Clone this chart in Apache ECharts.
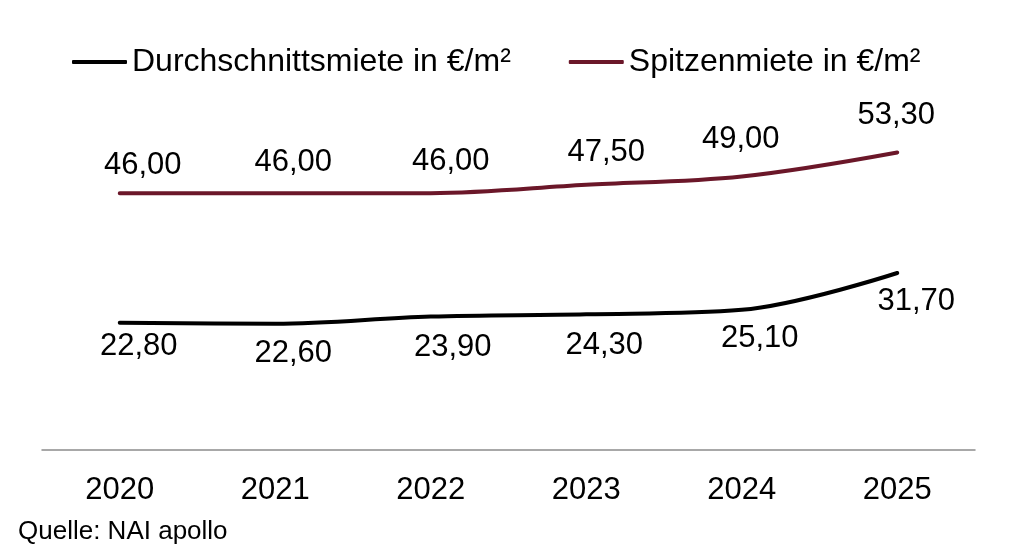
<!DOCTYPE html>
<html><head><meta charset="utf-8">
<script src="https://cdn.jsdelivr.net/npm/echarts@6/dist/echarts.min.js"></script>
<style>html,body{margin:0;padding:0;background:#fff}#c{width:1024px;height:555px}</style>
</head><body><div id="c"></div>
<script>
const years = ['2020','2021','2022','2023','2024','2025'];
const durchschnitt = [22.8, 22.6, 23.9, 24.3, 25.1, 31.7];
const spitzen = [46.0, 46.0, 46.0, 47.5, 49.0, 53.3];
const seriesNames = ['Durchschnittsmiete in €/m²', 'Spitzenmiete in €/m²'];
const sourceText = 'Quelle: NAI apollo';

// label placement tweaks (x, y offsets in px)
const durchOffsets = [[19,24],[18,30],[22,31],[18,31],[18,29],[19,28]];
const spitzOffsets = [[23,-28],[18,-31],[20,-32],[20,-32],[-1,-37],[-1,-37]];

const fmt = v => v.toFixed(2).replace('.', ',');
const font = 'Liberation Sans, Arial, Helvetica, sans-serif';

function mk(vals, offs) {
  return vals.map((v, i) => ({ value: v, label: { offset: offs[i] } }));
}

const chart = echarts.init(document.getElementById('c'));
chart.setOption({
  animation: false,
  backgroundColor: '#fff',
  legend: {
    top: 41, left: 67, itemWidth: 55, itemHeight: 4, itemGap: 58,
    icon: 'roundRect',
    textStyle: { fontFamily: font, fontSize: 32, color: '#000' },
    data: seriesNames
  },
  graphic: [{ type: 'text', left: 18, top: 519, style: { text: sourceText, font: '26px ' + font, fill: '#000' } }],
  grid: { left: 42, right: 49, top: 115, bottom: 105 },
  xAxis: {
    type: 'category', data: years, boundaryGap: true,
    axisLine: { lineStyle: { color: '#8c8c8c', width: 1.5 } },
    axisTick: { show: false },
    axisLabel: { color: '#000', fontFamily: font, fontSize: 31, margin: 25 }
  },
  yAxis: { type: 'value', min: 0, max: 60, show: false, splitLine: { show: false } },
  series: [
    { name: seriesNames[0], type: 'line', smooth: 0.35, data: mk(durchschnitt, durchOffsets),
      showSymbol: true, symbol: 'circle', symbolSize: 0, color: '#000',
      lineStyle: { color: '#000', width: 4, cap: 'round' },
      label: { show: true, position: 'inside', formatter: p => fmt(p.value), color: '#000', fontFamily: font, fontSize: 31 } },
    { name: seriesNames[1], type: 'line', smooth: 0.35, data: mk(spitzen, spitzOffsets),
      showSymbol: true, symbol: 'circle', symbolSize: 0, color: '#6b1729',
      lineStyle: { color: '#6b1729', width: 4, cap: 'round' },
      label: { show: true, position: 'inside', formatter: p => fmt(p.value), color: '#000', fontFamily: font, fontSize: 31 } }
  ]
});
</script></body></html>
